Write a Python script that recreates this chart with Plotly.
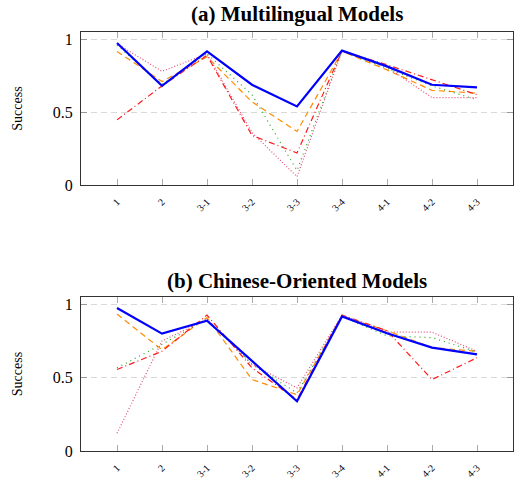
import plotly.graph_objects as go

categories = ["1", "2", "3-1", "3-2", "3-3", "3-4", "4-1", "4-2", "4-3"]

# (a) Multilingual Models
a_blue   = [0.975, 0.681, 0.917, 0.688, 0.539, 0.922, 0.814, 0.688, 0.670]
a_orange = [0.917, 0.710, 0.880, 0.570, 0.367, 0.917, 0.790, 0.650, 0.630]
a_green  = [0.960, 0.690, 0.900, 0.620, 0.100, 0.920, 0.800, 0.680, 0.585]
a_red    = [0.447, 0.680, 0.890, 0.340, 0.220, 0.920, 0.825, 0.720, 0.620]
a_pink   = [0.970, 0.780, 0.900, 0.360, 0.057, 0.920, 0.810, 0.600, 0.600]

# (b) Chinese-Oriented Models
b_blue   = [0.975, 0.800, 0.888, 0.613, 0.339, 0.918, 0.803, 0.705, 0.659]
b_orange = [0.934, 0.690, 0.910, 0.487, 0.384, 0.920, 0.820, 0.705, 0.680]
b_green  = [0.567, 0.727, 0.900, 0.590, 0.396, 0.918, 0.785, 0.773, 0.675]
b_red    = [0.556, 0.680, 0.927, 0.567, 0.350, 0.927, 0.820, 0.487, 0.636]
b_pink   = [0.121, 0.750, 0.900, 0.590, 0.430, 0.927, 0.810, 0.810, 0.680]

titles = ["(a) Multilingual Models", "(b) Chinese-Oriented Models"]
y_ticks = [0, 0.5, 1]
y_tick_text = ["0", "0.5", "1"]

styles = [
    dict(color="#ff8c00", width=1.2, dash="6px,4px"),
    dict(color="#22a822", width=1.2, dash="1px,4px"),
    dict(color="#ff1a1a", width=1.2, dash="6px,3px,1px,3px"),
    dict(color="#e0507a", width=1.2, dash="1px,2px"),
    dict(color="#0000ff", width=2.2, dash="solid"),
]

W, H = 516, 484
x0p, x1p = 81 / W, 513 / W
domains = [(1 - 185 / H, 1 - 32 / H), (1 - 451 / H, 1 - 297 / H)]

fig = go.Figure()
xs = list(range(1, len(categories) + 1))
sets = [[a_orange, a_green, a_red, a_pink, a_blue],
        [b_orange, b_green, b_red, b_pink, b_blue]]

for i, series in enumerate(sets):
    xa = "x" if i == 0 else "x2"
    ya = "y" if i == 0 else "y2"
    for vals, st in zip(series, styles):
        fig.add_trace(go.Scatter(x=xs, y=vals, mode="lines", line=st,
                                 xaxis=xa, yaxis=ya, showlegend=False,
                                 hoverinfo="skip"))

font_serif = "Liberation Serif, Times New Roman, serif"
axis_common_x = dict(range=[0.2, 9.8], tickmode="array", tickvals=xs,
                     ticktext=categories, tickangle=-45,
                     tickfont=dict(family=font_serif, size=10, color="black"),
                     ticks="inside", ticklen=6, tickcolor="#aaaaaa",
                     tickwidth=1, showgrid=False, zeroline=False,
                     showline=True, linecolor="#333333", linewidth=1.2,
                     mirror="allticks", ticklabelstandoff=6, fixedrange=True,
                     automargin=False)
axis_common_y = dict(range=[0, 1.05], tickmode="array", tickvals=y_ticks,
                     ticktext=y_tick_text,
                     tickfont=dict(family=font_serif, size=16, color="black"),
                     ticks="inside", ticklen=6, tickcolor="#999999",
                     showgrid=True, gridcolor="#d9d9d9", griddash="6px,4px",
                     gridwidth=1, zeroline=False, showline=True,
                     linecolor="#333333", linewidth=1.2, mirror="allticks",
                     ticklabelstandoff=4,
                     title=dict(text="Success",
                                font=dict(family=font_serif, size=14, color="black"),
                                standoff=26),
                     fixedrange=True, automargin=False)

fig.update_layout(
    width=W, height=H,
    margin=dict(l=0, r=0, t=0, b=0),
    paper_bgcolor="white", plot_bgcolor="white",
    xaxis=dict(domain=[x0p, x1p], anchor="y", **axis_common_x),
    yaxis=dict(domain=list(domains[0]), anchor="x", **axis_common_y),
    xaxis2=dict(domain=[x0p, x1p], anchor="y2", **axis_common_x),
    yaxis2=dict(domain=list(domains[1]), anchor="x2", **axis_common_y),
)

title_y = [1 - 14 / H, 1 - 281 / H]
for t, ty in zip(titles, title_y):
    fig.add_annotation(text="<b>" + t + "</b>", x=(x0p + x1p) / 2, y=ty,
                       xref="paper", yref="paper", showarrow=False,
                       xanchor="center", yanchor="middle",
                       font=dict(family=font_serif, size=21, color="black"))

fig.write_html("out.html", config={"displayModeBar": False},
               post_script="document.body.style.margin='0';"
                           "document.body.style.overflow='hidden';")
